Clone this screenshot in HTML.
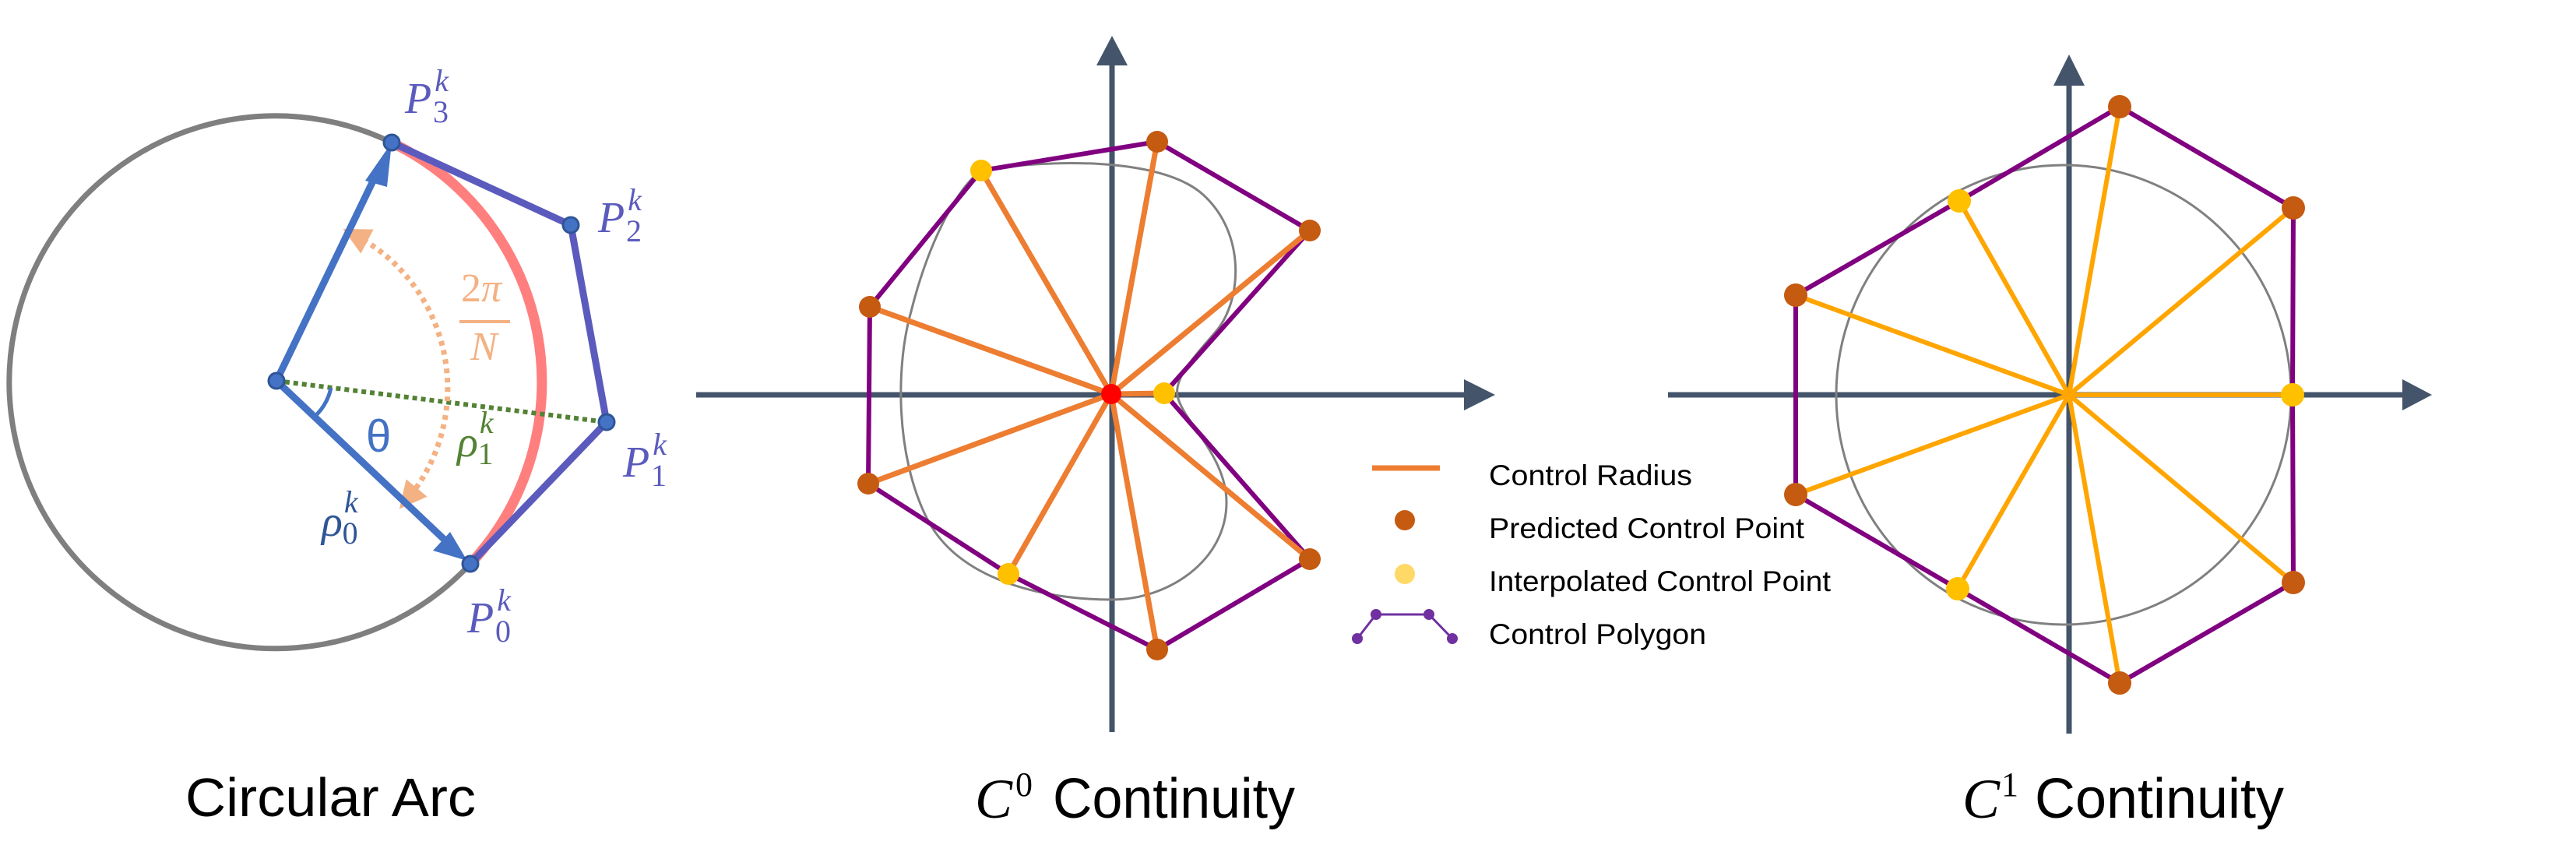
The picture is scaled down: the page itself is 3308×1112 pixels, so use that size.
<!DOCTYPE html>
<html><head><meta charset="utf-8"><style>
html,body{margin:0;padding:0;background:#fff}
svg{display:block}
.t{font-family:"Liberation Sans",sans-serif;fill:#000}
.m{font-family:"Liberation Serif",serif;font-style:italic}
</style></head><body>
<svg id="fig" width="3308" height="1112" viewBox="0 0 3308 1112" xmlns="http://www.w3.org/2000/svg">
<defs>
<marker id="oa" viewBox="0 0 10 10" refX="5" refY="5" markerWidth="5" markerHeight="5" orient="auto-start-reverse"><path d="M0,0 L10,5 L0,10 z" fill="#f4b183"/></marker>
</defs>

<!-- Panel 1: circular arc -->
<g>
<path d="M604,724 A342,342 0 1 1 503,183" fill="none" stroke="#7f7f7f" stroke-width="7"/>
<path d="M503,183 A342,342 0 0 1 604,724" fill="none" stroke="#ff7f7f" stroke-width="13"/>
<polyline points="503,183 733,289 779,542 604,724" fill="none" stroke="#5b5bbd" stroke-width="9" stroke-linejoin="round"/>
<line x1="355" y1="489" x2="779" y2="542" stroke="#548235" stroke-width="6" stroke-dasharray="6,5"/>
<path d="M456,302 A222,222 0 0 1 524,640" fill="none" stroke="#f4b183" stroke-width="7" stroke-dasharray="6,6" marker-start="url(#oa)" marker-end="url(#oa)"/>
<path d="M425,498 A70,70 0 0 1 407,532" fill="none" stroke="#4472c4" stroke-width="5"/>
<line x1="355" y1="489" x2="484" y2="222" stroke="#4472c4" stroke-width="9"/>
<polygon points="503,183 469,232 497,240" fill="#4472c4"/>
<line x1="355" y1="489" x2="575" y2="697" stroke="#4472c4" stroke-width="9"/>
<polygon points="600,720 556,707 578,683" fill="#4472c4"/>
<g fill="#4472c4" stroke="#2f5597" stroke-width="3">
<circle cx="355" cy="489" r="10"/>
<circle cx="503" cy="183" r="10"/>
<circle cx="733" cy="289" r="10"/>
<circle cx="779" cy="542" r="10"/>
<circle cx="604" cy="724" r="10"/>
</g>
<g class="m" fill="#5b5bbd" font-size="56">
<text x="520" y="145">P<tspan font-size="40" dx="4" dy="-28">k</tspan><tspan font-size="40" dx="-20" dy="40" font-style="normal">3</tspan></text>
<text x="768" y="298">P<tspan font-size="40" dx="4" dy="-28">k</tspan><tspan font-size="40" dx="-20" dy="40" font-style="normal">2</tspan></text>
<text x="800" y="612">P<tspan font-size="40" dx="4" dy="-28">k</tspan><tspan font-size="40" dx="-20" dy="40" font-style="normal">1</tspan></text>
<text x="600" y="812">P<tspan font-size="40" dx="4" dy="-28">k</tspan><tspan font-size="40" dx="-20" dy="40" font-style="normal">0</tspan></text>
</g>
<text x="470" y="580" font-family="Liberation Sans,sans-serif" font-size="58" fill="#4472c4">θ</text>
<text class="m" x="413" y="688" font-size="56" fill="#2f5597">ρ<tspan font-size="40" dx="2" dy="-30">k</tspan><tspan font-size="40" dx="-20" dy="40" font-style="normal">0</tspan></text>
<text class="m" x="587" y="586" font-size="56" fill="#548235">ρ<tspan font-size="40" dx="2" dy="-30">k</tspan><tspan font-size="40" dx="-20" dy="40" font-style="normal">1</tspan></text>
<text x="592" y="387" font-family="Liberation Serif,serif" font-size="52" fill="#f4b183">2<tspan font-style="italic">π</tspan></text>
<line x1="590" y1="413" x2="655" y2="413" stroke="#f4b183" stroke-width="4"/>
<text class="m" x="604" y="462" font-size="52" fill="#f4b183">N</text>
<text class="t" x="238" y="1048" font-size="70" textLength="373" lengthAdjust="spacingAndGlyphs">Circular Arc</text>
</g>

<g id="p2">
<line x1="1428" y1="80" x2="1428" y2="940" stroke="#44546a" stroke-width="7"/>
<polygon points="1428,46 1408,84 1448,84" fill="#44546a"/>
<line x1="894" y1="507" x2="1884" y2="507" stroke="#44546a" stroke-width="7"/>
<polygon points="1920,507 1880,487 1880,527" fill="#44546a"/>
<path d="M1260,219 C1340,205 1490,200 1545,250 C1600,300 1595,385 1562,425 C1532,460 1508,485 1512,508 C1518,540 1575,585 1575,645 C1575,720 1500,770 1428,770 C1340,770 1230,745 1190,665 C1150,585 1150,470 1170,400 C1190,320 1225,245 1260,219 Z" fill="none" stroke="#808080" stroke-width="3"/>
</g>

<g id="p3">
<line x1="2657" y1="105" x2="2657" y2="942" stroke="#44546a" stroke-width="7"/>
<polygon points="2657,70 2637,110 2677,110" fill="#44546a"/>
<line x1="2142" y1="507" x2="3090" y2="507" stroke="#44546a" stroke-width="7"/>
<polygon points="3123,507 3085,487 3085,527" fill="#44546a"/>
<ellipse cx="2650" cy="507" rx="292" ry="295" fill="none" stroke="#808080" stroke-width="3"/>
</g>

<g>
<line x1="1762" y1="601" x2="1849" y2="601" stroke="#ed7d31" stroke-width="7"/>
<circle cx="1804" cy="668" r="13" fill="#c55a11"/>
<circle cx="1804" cy="737" r="13" fill="#ffd966"/>
<polyline points="1743,820 1767,789 1835,789 1865,820" fill="none" stroke="#7030a0" stroke-width="3"/>
<g fill="#7030a0"><circle cx="1743" cy="820" r="7"/><circle cx="1767" cy="789" r="7"/><circle cx="1835" cy="789" r="7"/><circle cx="1865" cy="820" r="7"/></g>
<text class="t" x="1912" y="623" font-size="37" textLength="261" lengthAdjust="spacingAndGlyphs">Control Radius</text>
<text class="t" x="1912" y="691" font-size="37" textLength="405" lengthAdjust="spacingAndGlyphs">Predicted Control Point</text>
<text class="t" x="1912" y="759" font-size="37" textLength="439" lengthAdjust="spacingAndGlyphs">Interpolated Control Point</text>
<text class="t" x="1912" y="827" font-size="37" textLength="279" lengthAdjust="spacingAndGlyphs">Control Polygon</text>
</g>

<text x="1252" y="1050" font-size="72"><tspan class="m" font-family="Liberation Serif,serif">C</tspan><tspan font-family="Liberation Serif,serif" font-size="44" x="1304" y="1022">0</tspan><tspan class="t" x="1352" y="1050" textLength="311" lengthAdjust="spacingAndGlyphs">Continuity</tspan></text>
<text x="2520" y="1050" font-size="72"><tspan class="m" font-family="Liberation Serif,serif">C</tspan><tspan font-family="Liberation Serif,serif" font-size="44" x="2570" y="1022">1</tspan><tspan class="t" x="2613" y="1050" textLength="320" lengthAdjust="spacingAndGlyphs">Continuity</tspan></text>
</svg>
<script>
// C0 panel data (units of 100 px, origin at axis crossing, y up)
const c0PredX = [0.59, 2.55, -3.10, -3.12, 2.55, 0.59];
const c0PredY = [3.24, 2.10, 1.12, -1.15, -2.12, -3.28];
const c0InterpX = [-1.67, 0.68, -1.32];
const c0InterpY = [2.87, 0.01, -2.31];
// C1 panel data
const c1PredX = [0.65, 2.88, -3.51, -3.51, 2.88, 0.65];
const c1PredY = [3.70, 2.40, 1.28, -1.28, -2.41, -3.70];
const c1InterpX = [-1.41, 2.87, -1.43];
const c1InterpY = [2.49, 0.00, -2.49];
// polygon order: ['I',i] interpolated, ['P',i] predicted
const polyOrder = [['I',0],['P',0],['P',1],['I',1],['P',4],['P',5],['I',2],['P',3],['P',2]];

const NS = 'http://www.w3.org/2000/svg';
function mk(tag, attrs, parent){const e=document.createElementNS(NS,tag);for(const k in attrs)e.setAttribute(k,attrs[k]);parent.appendChild(e);return e;}

function drawPanel(g, cx, cy, px, py, ix, iy, spokeColor, spokeW, centerDot, dotR){
  const sx = v => cx + v*100;
  const sy = v => cy - v*100;
  const pts = polyOrder.map(([t,i]) => t==='P' ? [sx(px[i]),sy(py[i])] : [sx(ix[i]),sy(iy[i])]);
  const poly = mk('polygon',{points:pts.map(p=>p.join(',')).join(' '),fill:'none',stroke:'#800080','stroke-width':6,'stroke-linejoin':'round'},g);
  
  
  pts.forEach((p,k)=>{
    const l = mk('line',{x1:cx,y1:cy,x2:p[0],y2:p[1],stroke:spokeColor,'stroke-width':spokeW},g);
    
    
  });
  for(let i=0;i<px.length;i++){
    const c = mk('circle',{cx:sx(px[i]),cy:sy(py[i]),r:dotR,fill:'#c55a11'},g);
    
    
  }
  for(let i=0;i<ix.length;i++){
    const c = mk('circle',{cx:sx(ix[i]),cy:sy(iy[i]),r:dotR,fill:'#ffc000'},g);
    
    
  }
  if(centerDot){
    const c = mk('circle',{cx:cx,cy:cy,r:13,fill:'#ff0000'},g);
    
    
  }
}
drawPanel(document.getElementById('p2'),1427,506,c0PredX,c0PredY,c0InterpX,c0InterpY,'#ed7d31',7,true,14);
drawPanel(document.getElementById('p3'),2657,507,c1PredX,c1PredY,c1InterpX,c1InterpY,'#ffa500',6,false,15);
</script>
</body></html>
